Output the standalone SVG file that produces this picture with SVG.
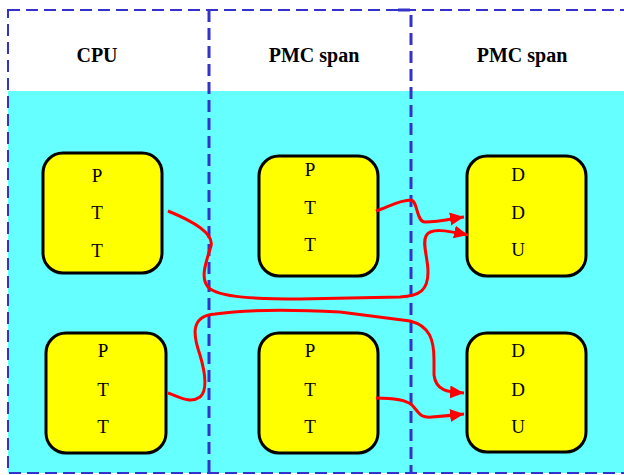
<svg xmlns="http://www.w3.org/2000/svg" width="624" height="475" viewBox="0 0 624 475">
<style>
.hdr{font-family:"Liberation Serif","Times New Roman",serif;font-weight:bold;font-size:20px;text-anchor:middle;fill:#000}
.box rect{fill:#FFFF00;stroke:#000;stroke-width:3}
.box text{font-family:"Liberation Serif","Times New Roman",serif;font-size:19px;text-anchor:middle;fill:#000}
.dash{fill:none;stroke:#3333CC;stroke-dasharray:12 6}
.wire{fill:none;stroke:#FF0000;stroke-width:3;marker-end:url(#arr)}
</style>
<defs>
<marker id="arr" markerUnits="userSpaceOnUse" markerWidth="16" markerHeight="14" refX="14" refY="6.5" orient="auto">
<path d="M0,0 L14,6.5 L0,13 z" fill="#FF0000"/>
</marker>
</defs>
<rect x="0" y="0" width="624" height="475" fill="#FFFFFF"/>
<rect x="8" y="91" width="616" height="382" fill="#66FFFF"/>
<g id="frame">
<rect class="dash" x="8" y="10" width="630" height="463" stroke-width="2"/>
<line class="dash" x1="209" y1="10" x2="209" y2="473" stroke-width="3"/>
<path class="dash" d="M398,10 L411,10 L411,473" stroke-width="3"/>
</g>
<g id="headers">
<text class="hdr" x="97" y="62">CPU</text>
<text class="hdr" x="314" y="62">PMC span</text>
<text class="hdr" x="522" y="62">PMC span</text>
</g>
<g id="cpu1" class="box"><rect x="43" y="153" width="119" height="120" rx="20"/><text x="97" y="182">P</text><text x="97" y="219">T</text><text x="97" y="257">T</text></g>
<g id="pmc1" class="box"><rect x="259" y="156" width="119" height="120" rx="20"/><text x="310" y="176">P</text><text x="310" y="214">T</text><text x="310" y="251">T</text></g>
<g id="ddu1" class="box"><rect x="467" y="156" width="119" height="120" rx="20"/><text x="518" y="181">D</text><text x="518" y="219">D</text><text x="518" y="256">U</text></g>
<g id="cpu2" class="box"><rect x="46" y="333" width="120" height="120" rx="20"/><text x="103" y="357">P</text><text x="103" y="396">T</text><text x="103" y="433">T</text></g>
<g id="pmc2" class="box"><rect x="259" y="333" width="119" height="120" rx="20"/><text x="310" y="357">P</text><text x="310" y="396">T</text><text x="310" y="433">T</text></g>
<g id="ddu2" class="box"><rect x="467" y="333" width="119" height="119" rx="20"/><text x="518" y="357">D</text><text x="518" y="396">D</text><text x="518" y="433">U</text></g>
<g id="connectors">
<path class="wire" d="M168,211 C195,222 214,234 211,246 C206,262 200,278 208,287 C218,298 260,299 300,299 L400,297 C420,296 428,290 428,272 C428,258 422,244 426,236 C430,228 445,230 468,235"/>
<path class="wire" d="M376,211 C390,206 400,200 411,200 C418,201 416,222 425,222 C440,222 450,219 464,217"/>
<path class="wire" d="M168,393 C180,397 190,404 200,397 C208,390 205,372 200,355 C193,335 190,316 215,314 C250,309 300,310 340,312 L410,321 C430,326 434,340 434,360 L434,375 C436,392 450,392 464,393"/>
<path class="wire" d="M376,398 C390,398 405,399 412,405 C420,414 420,418 432,417 C445,416 455,415 464,414"/>
</g>
</svg>
